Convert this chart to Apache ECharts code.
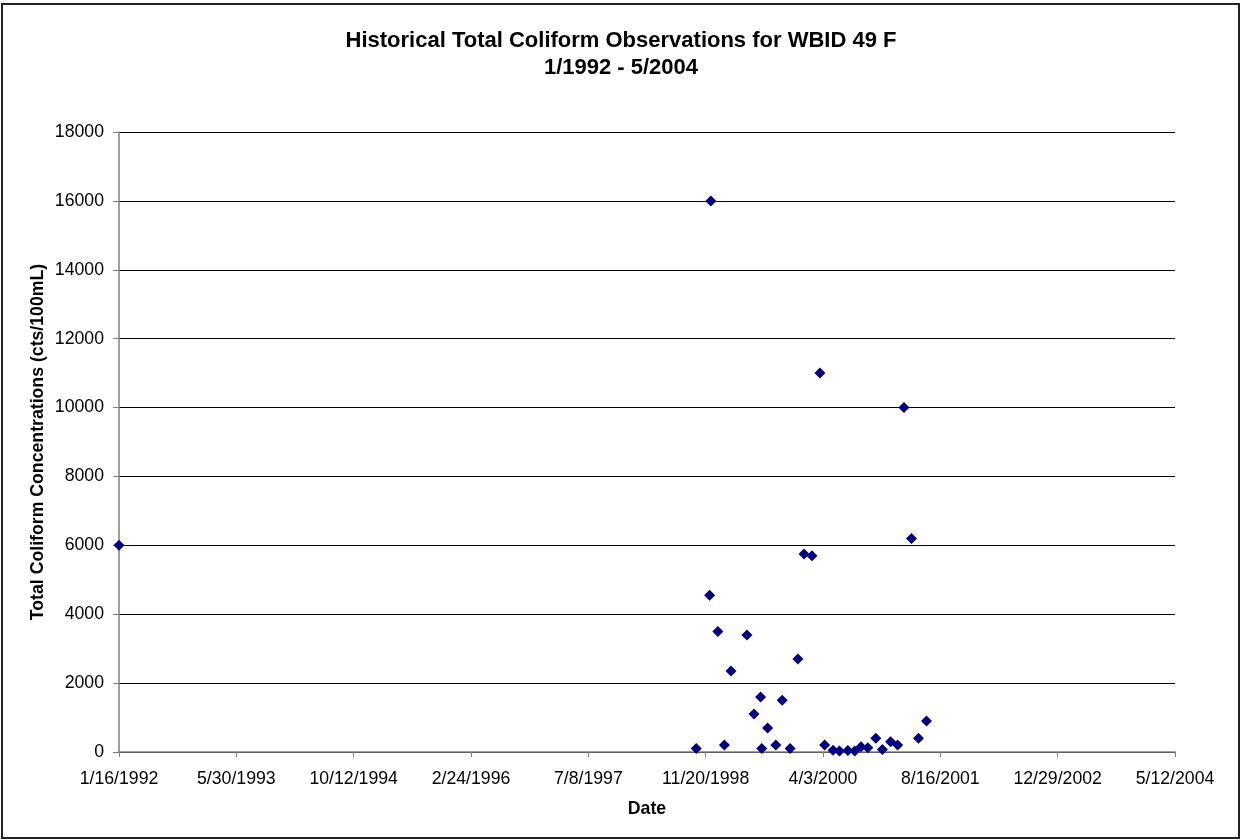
<!DOCTYPE html>
<html>
<head>
<meta charset="utf-8">
<title>Historical Total Coliform Observations for WBID 49 F</title>
<script src="https://cdn.jsdelivr.net/npm/echarts@6/dist/echarts.min.js"></script>
<style>
  html, body { margin: 0; padding: 0; background: #fff; }
  #chart { width: 1242px; height: 840px; }
</style>
</head>
<body>
<div id="chart"></div>
<script>
// Sample dates (M/D/YYYY) and total coliform counts (cts/100mL)
const sampleDates = [
  '1/16/1992',
  '10/11/1998', '12/7/1998', '12/12/1998', '1/11/1999', '2/8/1999', '3/8/1999',
  '5/15/1999', '6/14/1999', '7/12/1999', '7/17/1999', '8/11/1999', '9/15/1999',
  '10/12/1999', '11/15/1999', '12/18/1999', '1/13/2000', '2/16/2000', '3/21/2000',
  '4/10/2000', '5/16/2000', '6/12/2000', '7/18/2000', '8/16/2000', '9/12/2000',
  '10/11/2000', '11/14/2000', '12/12/2000', '1/16/2001', '2/15/2001', '3/14/2001',
  '4/15/2001', '5/15/2001', '6/18/2001'
];
const coliformCounts = [
  6000,
  100, 4550, 16000, 3500, 200, 2350,
  3400, 1100, 1600, 100, 700, 200,
  1500, 100, 2700, 5750, 5700, 11000,
  200, 50, 30, 40, 30, 150,
  120, 400, 70, 300, 200, 10000,
  6200, 400, 900
];

// Axis setup: days counted from the first tick date, ticks every 500 days
const axisStartDate = '1/16/1992';
const dayStep = 500;
const dayCount = 4500;
const yMax = 18000;
const yStep = 2000;

const DAY_MS = 86400000;
function parseMDY(s) {
  const [m, d, y] = s.split('/').map(Number);
  return Date.UTC(y, m - 1, d);
}
const origin = parseMDY(axisStartDate);
function dayOffset(s) { return Math.round((parseMDY(s) - origin) / DAY_MS); }
function dayLabel(v) {
  const dt = new Date(origin + v * DAY_MS);
  return (dt.getUTCMonth() + 1) + '/' + dt.getUTCDate() + '/' + dt.getUTCFullYear();
}

const points = sampleDates.map((s, i) => [dayOffset(s), coliformCounts[i]]);

const FONT = 'Arial, "Liberation Sans", sans-serif';

const chart = echarts.init(document.getElementById('chart'), null, { renderer: 'canvas' });
chart.setOption({
  animation: false,
  backgroundColor: '#ffffff',
  title: {
    text: 'Historical Total Coliform Observations for WBID 49 F\n1/1992 - 5/2004',
    left: 'center',
    top: 23,
    textStyle: {
      fontFamily: FONT,
      fontSize: 22,
      fontWeight: 'bold',
      color: '#000',
      lineHeight: 26.5,
      align: 'center'
    }
  },
  graphic: [{
    type: 'rect',
    shape: { x: 2, y: 4, width: 1237, height: 834 },
    style: { fill: 'none', stroke: '#222', lineWidth: 2 },
    silent: true,
    z: -1
  }],
  grid: { left: 119, right: 67, top: 132, bottom: 88, containLabel: false },
  xAxis: {
    type: 'value',
    min: 0,
    max: dayCount,
    interval: dayStep,
    name: 'Date',
    nameLocation: 'middle',
    nameGap: 48,
    nameMoveOverlap: false,
    nameTextStyle: { fontFamily: FONT, fontSize: 17.7, fontWeight: 'bold', color: '#000' },
    axisLine: { show: true, lineStyle: { color: '#808080', width: 1.5 } },
    axisTick: { show: true, length: 5, inside: false, lineStyle: { color: '#808080' } },
    axisLabel: {
      formatter: dayLabel,
      fontFamily: FONT, fontSize: 17.7, color: '#000', margin: 18,
      showMinLabel: true, showMaxLabel: true, hideOverlap: false
    },
    splitLine: { show: false }
  },
  yAxis: {
    type: 'value',
    min: 0,
    max: yMax,
    interval: yStep,
    name: 'Total Coliform Concentrations (cts/100mL)',
    nameLocation: 'middle',
    nameGap: 72,
    nameRotate: 90,
    nameMoveOverlap: false,
    nameTextStyle: { fontFamily: FONT, fontSize: 17.7, fontWeight: 'bold', color: '#000' },
    axisLine: { show: true, lineStyle: { color: '#808080', width: 1.5 } },
    axisTick: { show: true, length: 6, inside: false, lineStyle: { color: '#808080' } },
    axisLabel: {
      formatter: v => String(v),
      fontFamily: FONT, fontSize: 17.7, color: '#000', margin: 15
    },
    splitLine: { show: true, lineStyle: { color: '#000', width: 1 } }
  },
  series: [{
    name: 'Total Coliform',
    type: 'scatter',
    data: points,
    symbol: 'diamond',
    symbolSize: [11, 11],
    clip: false,
    itemStyle: { color: '#000080', opacity: 1 }
  }]
});
</script>
</body>
</html>
